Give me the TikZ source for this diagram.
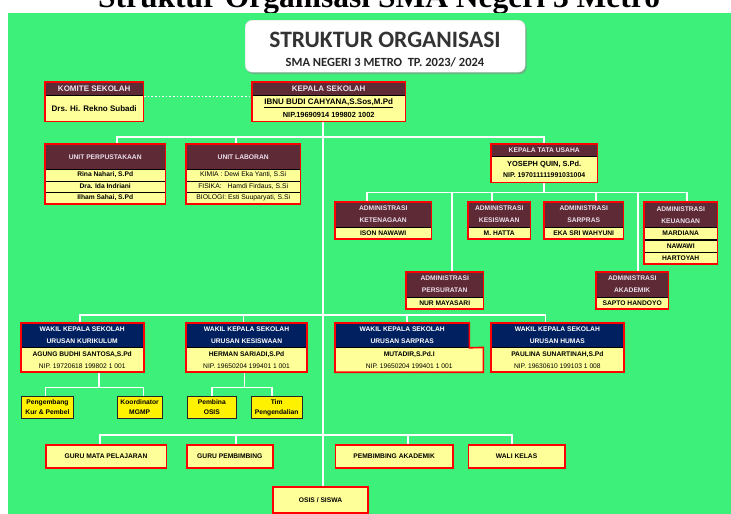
\documentclass[tikz,border=0pt]{standalone}
\usepackage{fontspec}
\setmainfont{Liberation Sans}
\newfontfamily\judulfont{Carlito}
\newfontfamily\kopfont{Liberation Serif}
\usetikzlibrary{fit,shadows,backgrounds}

\definecolor{hijau}{RGB}{60,240,122}
\definecolor{marun}{RGB}{93,42,54}
\definecolor{biru}{RGB}{0,32,96}
\definecolor{kuning}{RGB}{255,255,153}
\definecolor{teks}{RGB}{236,224,236}

\tikzset{
  kepala/.style={fill=marun, text=teks, anchor=north west, inner sep=0pt, align=center,
    font=\bfseries\fontsize{6.7}{12}\selectfont},
  kepalabiru/.style={kepala, fill=biru, text=white},
  isi/.style={fill=kuning, draw=black, line width=0.4pt, anchor=north west, inner sep=0pt,
    align=center, font=\bfseries\fontsize{6.7}{11.7}\selectfont},
  bingkai/.style={draw=red, line width=1.6pt, inner sep=0pt},
  garis/.style={draw=white, line width=1.6pt},
  kartu/.style={fill=yellow, draw=black!85, line width=0.9pt, anchor=north west, inner sep=0pt,
    align=center, font=\bfseries\fontsize{6.7}{9.8}\selectfont},
  bawah/.style={fill=kuning, draw=red, line width=1.6pt, anchor=north west, inner sep=0pt,
    font=\bfseries\fontsize{6.7}{8}\selectfont},
  judulbox/.style={fill=white, draw=black!15, rounded corners=7pt, anchor=north west,
    drop shadow={shadow xshift=1.5pt, shadow yshift=-2pt, fill=black!45, opacity=0.6}}
}

\begin{document}
\begin{tikzpicture}[x=1pt, y=-1pt]
  \useasboundingbox (0,0) rectangle (731,514);
  \def\besar{\bfseries\fontsize{8}{12.3}\selectfont}

  % judul
  \node[judulbox, minimum width=280, minimum height=52] (judul) at (245,20) {};
  \node[font=\judulfont\bfseries\fontsize{23.5}{26}\selectfont, text=black!80] (judul-1) at (385,40) {STRUKTUR ORGANISASI};
  \node[font=\judulfont\bfseries\fontsize{12.5}{14}\selectfont, text=black!85] (judul-2) at (385,62) {SMA NEGERI 3 METRO\ \ TP. 2023/ 2024};

  % komite dan kepala sekolah
  \node[kepala, minimum width=98, minimum height=13, font=\besar] (kom-h) at (45,82) {KOMITE SEKOLAH};
  \node[isi, minimum width=98, minimum height=26, font=\besar] (kom-1) at (45,95) {Drs. Hi. Rekno Subadi};
  \node[bingkai, fit=(kom-h)(kom-1)] (komite) {};

  \node[kepala, minimum width=153, minimum height=13, font=\besar] (ks-h) at (252,82) {KEPALA SEKOLAH};
  \node[isi, minimum width=153, minimum height=26, font=\bfseries\fontsize{7.4}{12.3}\selectfont] (ks-1) at (252,95)
    {{\besar\underline{IBNU BUDI CAHYANA,S.Sos,M.Pd}}\\NIP.19690914 199802 1002};
  \node[bingkai, fit=(ks-h)(ks-1)] (kepsek) {};

  % unit
  \node[kepala, minimum width=120, minimum height=25] (perp-h) at (45,144) {UNIT PERPUSTAKAAN};
  \foreach \y/\nama [count=\i] in {169/{Rina Nahari, S.Pd}, 180.5/{Dra. Ida Indriani}, 192/{Ilham Sahai, S.Pd}}
    \node[isi, minimum width=120, minimum height=11.5] (perp-\i) at (45,\y) {\nama};
  \node[bingkai, fit=(perp-h)(perp-3)] (perpus) {};

  \node[kepala, minimum width=114, minimum height=25] (lab-h) at (186,144) {UNIT LABORAN};
  \foreach \y/\nama [count=\i] in {169/{KIMIA : Dewi Eka Yanti, S.Si}, 180.5/{FISIKA:\hspace{6pt}Hamdi Firdaus, S.Si}, 192/{BIOLOGI: Esti Suuparyati, S.Si}}
    \node[isi, minimum width=114, minimum height=11.5, font=\fontsize{6.8}{8}\selectfont] (lab-\i) at (186,\y) {\nama};
  \node[bingkai, fit=(lab-h)(lab-3)] (laboran) {};

  % tata usaha
  \node[kepala, minimum width=106, minimum height=12] (tu-h) at (491,144) {KEPALA TATA USAHA};
  \node[isi, minimum width=106, minimum height=26, font=\bfseries\fontsize{6.9}{10.5}\selectfont] (tu-1) at (491,156)
    {{\fontsize{7.4}{10.5}\selectfont YOSEPH QUIN, S.Pd.}\\NIP. 197011111991031004};
  \node[bingkai, fit=(tu-h)(tu-1)] (ktu) {};

  % administrasi
  \foreach \n/\x/\y/\w/\bag/\nama in {aket/335/202/96/KETENAGAAN/ISON NAWAWI,
      akes/468/202/62/KESISWAAN/M. HATTA, asar/544/202/79/SARPRAS/EKA SRI WAHYUNI,
      asur/406/272/77/PERSURATAN/NUR MAYASARI, akad/596/272/72/AKADEMIK/SAPTO HANDOYO} {
    \node[kepala, minimum width=\w, minimum height=24.5] (\n-h) at (\x,\y) {ADMINISTRASI\\\bag};
    \node[isi, minimum width=\w, minimum height=12.3] (\n-1) at (\x,\y+24.5) {\nama};
    \node[bingkai, fit=(\n-h)(\n-1)] (\n) {};
  }
  \node[kepala, minimum width=73, minimum height=25] (akeu-h) at (644,202) {ADMINISTRASI\\KEUANGAN};
  \foreach \y/\nama [count=\i] in {227/MARDIANA, 239.5/NAWAWI, 251.5/HARTOYAH}
    \node[isi, minimum width=73, minimum height=12] (akeu-\i) at (644,\y) {\nama};
  \node[bingkai, fit=(akeu-h)(akeu-3)] (akeu) {};

  % wakil kepala sekolah
  \foreach \n/\x/\w/\bag/\nama/\nip in {wkur/20.7/122.6/KURIKULUM/{AGUNG BUDHI SANTOSA,S.Pd}/{19720618 199802 1 001},
      wkes/186/120.7/KESISWAAN/{HERMAN SARIADI,S.Pd}/{19650204 199401 1 001},
      whum/491/132.3/HUMAS/{PAULINA SUNARTINAH,S.Pd}/{19630610 199103 1 008}} {
    \node[kepalabiru, minimum width=\w, minimum height=24.4] (\n-h) at (\x,323) {WAKIL KEPALA SEKOLAH\\URUSAN \bag};
    \node[isi, minimum width=\w, minimum height=24.4] (\n-1) at (\x,347.4) {\nama\\{\mdseries NIP. \nip}};
    \node[bingkai, fit=(\n-h)(\n-1)] (\n) {};
  }
  \node[kepalabiru, minimum width=134, minimum height=24.4] (wsar-h) at (335,323) {WAKIL KEPALA SEKOLAH\\URUSAN SARPRAS};
  \node[isi, minimum width=148, minimum height=24.4] (wsar-1) at (335,347.4) {MUTADIR,S.Pd.I\\{\mdseries NIP. 19650204 199401 1 001}};
  \draw[bingkai] (wsar-h.north west) -- (wsar-h.north east) -- (wsar-h.south east) -- (wsar-1.north east)
    -- (wsar-1.south east) -- (wsar-1.south west) -- cycle;

  % pengembang, koordinator, pembina, tim
  \foreach \n/\x/\w/\nama in {peng/20.7/52.6/{Pengembang\\Kur \& Pembel}, koor/116.7/45/{Koordinator\\MGMP},
      pemb/186.7/49.3/{Pembina\\OSIS}, tim/250.7/51/{Tim\\Pengendalian}}
    \node[kartu, minimum width=\w, minimum height=22] (\n) at (\x,396) {\nama};

  % guru dan siswa
  \foreach \n/\x/\w/\nama in {gmp/45/120.5/GURU MATA PELAJARAN, gbk/186/86/GURU PEMBIMBING,
      pa/334.7/117.3/PEMBIMBING AKADEMIK, wk/467.6/96.4/WALI KELAS}
    \node[bawah, minimum width=\w, minimum height=23] (\n) at (\x,444) {\nama};
  \node[bawah, minimum width=95.4, minimum height=26] (osis) at (272,486) {OSIS / SISWA};

  % latar dan garis
  \begin{scope}[on background layer]
    \clip (0,0) rectangle (731,514);
    \node[anchor=base, font=\kopfont\bfseries\fontsize{31.5}{36}\selectfont] (kop) at (379,7) {Struktur Organisasi SMA Negeri 3 Metro};
    \fill[hijau] (8,13) rectangle (731,514);
    \coordinate (tulang) at (323,0);
    \draw[garis] (tulang |- kepsek.south) -- (tulang |- osis.north);
    \draw[garis, dotted, line width=1pt] ([yshift=5.5pt]komite.east) -- ([yshift=5.5pt]kepsek.west);

    \coordinate (bus1) at (323,137);
    \draw[garis] ([xshift=12pt]perpus.north) |- (bus1) -| (ktu.north);
    \draw[garis] ([xshift=-7pt]laboran.north) |- (bus1);

    \coordinate (bus2) at (545,192.5);
    \draw[garis] (ktu.south) -- (ktu.south |- bus2);
    \foreach \n/\geser in {aket/-16, akes/-7, asar/12.5, asur/7, akad/6, akeu/6}
      \draw[garis] ([xshift=\geser pt]\n.north) |- (bus2);

    \coordinate (bus3) at (323,315);
    \foreach \n/\geser in {wkur/-2, wkes/-3, wsar-h/4.7, whum/-12}
      \draw[garis] ([xshift=\geser pt]\n.north) |- (bus3);

    \coordinate (bus4) at (99,387.3);
    \draw[garis] ([xshift=-2pt]peng.north) |- (bus4) -| ([xshift=4pt]koor.north);
    \draw[garis] (bus4) -- (bus4 |- wkur.south);
    \coordinate (bus5) at (244.3,387.3);
    \draw[garis] (pemb.north) |- (bus5) -| ([xshift=-4.5pt]tim.north);
    \draw[garis] (bus5) -- (bus5 |- wkes.south);

    \coordinate (bus6) at (323,435);
    \draw[garis] ([xshift=-6pt]gmp.north) |- (bus6) -| ([xshift=-4.4pt]wk.north);
    \draw[garis] ([xshift=6.4pt]gbk.north) |- (bus6);
    \draw[garis] ([xshift=13.6pt]pa.north) |- (bus6);
  \end{scope}
\end{tikzpicture}
\end{document}
